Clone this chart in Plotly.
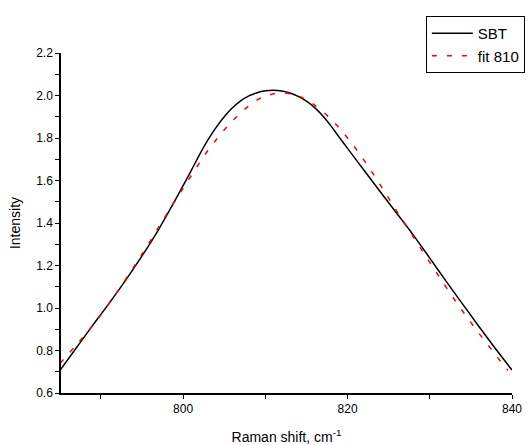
import plotly.graph_objects as go

sbt_x = [785.0, 787.0, 789.0, 791.0, 793.0, 795.0, 797.0, 799.0, 801.0, 802.0,
         803.0, 804.0, 805.0, 806.0, 807.0, 808.0, 809.0, 810.0, 811.0, 812.0,
         813.0, 814.0, 815.0, 816.0, 817.0, 818.0, 819.0, 820.0, 822.0, 824.0,
         826.0, 828.0, 830.0, 832.0, 834.0, 836.0, 838.0, 840.0]
sbt_y = [0.705, 0.812, 0.918, 1.022, 1.130, 1.245, 1.368, 1.505, 1.648, 1.722,
         1.790, 1.849, 1.900, 1.942, 1.975, 1.998, 2.013, 2.022, 2.025, 2.021,
         2.012, 1.996, 1.973, 1.943, 1.904, 1.856, 1.803, 1.751, 1.648, 1.546,
         1.445, 1.343, 1.235, 1.125, 1.018, 0.912, 0.808, 0.708]

fit_x = [785.0, 787.0, 789.0, 791.0, 793.0, 795.0, 797.0, 799.0, 801.0, 803.0,
         805.0, 807.0, 809.0, 810.5, 812.0, 813.5, 815.0, 816.0, 818.0, 820.0,
         822.0, 824.0, 826.0, 828.0, 830.0, 832.0, 834.0, 836.0, 838.0, 839.5]
fit_y = [0.738, 0.826, 0.918, 1.022, 1.134, 1.253, 1.378, 1.503, 1.624, 1.740,
         1.838, 1.918, 1.979, 2.003, 2.012, 2.004, 1.980, 1.955, 1.888, 1.800,
         1.696, 1.578, 1.455, 1.335, 1.215, 1.097, 0.985, 0.880, 0.780, 0.706]

x_ticks = [800, 820, 840]
y_ticks = [0.6, 0.8, 1.0, 1.2, 1.4, 1.6, 1.8, 2.0, 2.2]

fig = go.Figure()
fig.add_trace(go.Scatter(x=sbt_x, y=sbt_y, mode="lines", name="SBT",
                         line=dict(color="black", width=1.5, shape="spline", smoothing=1.0)))
fig.add_trace(go.Scatter(x=fit_x, y=fit_y, mode="lines", name="fit 810",
                         line=dict(color="red", width=1.5, dash="5px,10px",
                                   shape="spline", smoothing=1.0)))

font = "Liberation Sans, Arial, sans-serif"
fig.update_layout(
    width=529, height=445,
    margin=dict(l=61, r=17, t=53, b=52, autoexpand=False),
    paper_bgcolor="white", plot_bgcolor="white",
    font=dict(family=font, size=12, color="black"),
    showlegend=True,
    legend=dict(x=0.809, y=1.109, xanchor="left", yanchor="top",
                bordercolor="black", borderwidth=1, bgcolor="white",
                font=dict(size=15, family=font), tracegroupgap=0,
                itemwidth=41),
    xaxis=dict(range=[785.15, 840], tickvals=x_ticks,
               ticktext=[str(v) for v in x_ticks],
               showgrid=False, zeroline=False, showline=True,
               linecolor="black", linewidth=1.5, ticks="outside",
               ticklen=4, tickwidth=1, tickcolor="black", automargin=False,
               minor=dict(dtick=10, tick0=780, ticks="outside", ticklen=4,
                          tickcolor="black", showgrid=False),
               title=dict(text="Raman shift, cm<sup>-1</sup>", font=dict(size=14),
                          standoff=17),
               tickfont=dict(size=12)),
    yaxis=dict(range=[0.6, 2.2], tickvals=y_ticks,
               ticktext=["%.1f" % v for v in y_ticks],
               showgrid=False, zeroline=False, showline=True,
               linecolor="black", linewidth=1.5, ticks="outside",
               ticklen=4, tickwidth=1, tickcolor="black", automargin=False,
               minor=dict(dtick=0.1, tick0=0.6, ticks="outside", ticklen=4,
                          tickcolor="black", showgrid=False),
               title=dict(text="Intensity", font=dict(size=14), standoff=12),
               tickfont=dict(size=12)),
)

fig.write_html("out.html")
